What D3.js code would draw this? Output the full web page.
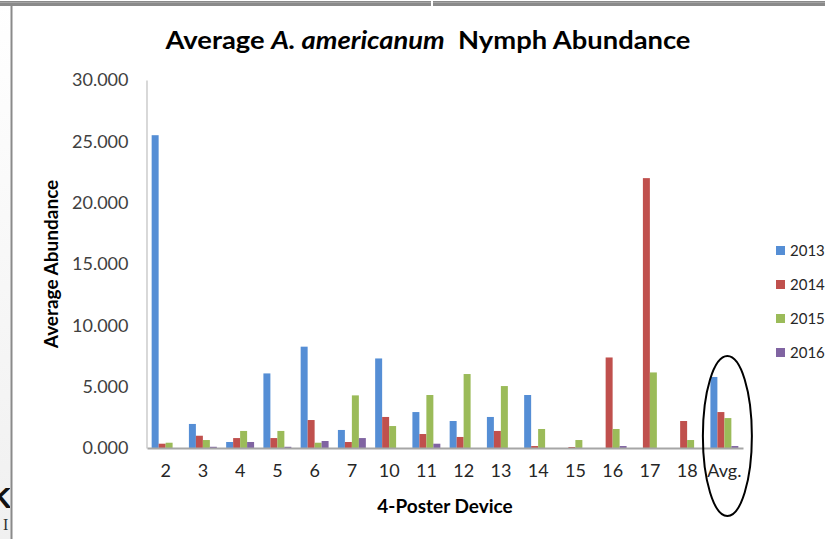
<!DOCTYPE html>
<html><head><meta charset="utf-8">
<script src="https://cdn.jsdelivr.net/npm/d3@7"></script>
<style>
html,body{margin:0;padding:0;background:#fff;}
svg{display:block;font-family:Lato,"Open Sans",sans-serif;}
</style></head>
<body>
<svg id="chart" width="825" height="539"></svg>
<script>
const categories = ["2","3","4","5","6","7","10","11","12","13","14","15","16","17","18","Avg."];
const seriesNames = ["2013","2014","2015","2016"];
const v2013 = [25.5,1.96,0.49,6.08,8.26,1.47,7.30,2.93,2.20,2.53,4.32,0,0,0,0,5.79];
const v2014 = [0.35,1.00,0.81,0.81,2.28,0.49,2.53,1.14,0.90,1.39,0.16,0.08,7.38,22.0,2.20,2.93];
const v2015 = [0.43,0.65,1.39,1.39,0.43,4.29,1.79,4.32,6.03,5.05,1.55,0.65,1.55,6.16,0.65,2.44];
const v2016 = [0,0.10,0.49,0.10,0.57,0.81,0,0.35,0,0,0,0,0.16,0,0,0.16];
const yTicks = [0,5,10,15,20,25,30];
const colors = ["#558ED5","#C0504D","#9BBB59","#8064A2"];
const seriesValues = [v2013,v2014,v2015,v2016];

const svg = d3.select("#chart");

// page decoration (window frame)
const defs = svg.append("defs");
const lg = defs.append("linearGradient").attr("id","leftbg").attr("x1","0").attr("x2","0").attr("y1","0").attr("y2","1");
lg.append("stop").attr("offset","0").attr("stop-color","#ffffff");
lg.append("stop").attr("offset","1").attr("stop-color","#f0f0f0");
svg.append("rect").attr("x",0).attr("y",0).attr("width",11).attr("height",539).attr("fill","url(#leftbg)");
defs.append("clipPath").attr("id","leftclip").append("rect").attr("x",0).attr("y",0).attr("width",10).attr("height",539);
const lt = svg.append("g").attr("clip-path","url(#leftclip)");
lt.append("text").attr("x",-10).attr("y",508).attr("font-family","Liberation Sans").attr("font-weight","bold").attr("font-size",30).attr("fill","#111").text("K");
lt.append("text").attr("x",3).attr("y",530).attr("font-family","Liberation Serif").attr("font-size",16).attr("fill","#333").text("I");
svg.append("rect").attr("x",0).attr("y",1).attr("width",825).attr("height",5).attr("fill","#8a8a8a");
svg.append("rect").attr("x",0).attr("y",2).attr("width",825).attr("height",1).attr("fill","#a5a5a5");
svg.append("rect").attr("x",10.5).attr("y",5).attr("width",2).attr("height",534).attr("fill","#8a8a8a");
svg.append("rect").attr("x",431).attr("y",0).attr("width",2).attr("height",6).attr("fill","#fff");

const x0 = d3.scaleBand().domain(categories).range([147,743]).paddingInner(0.25).paddingOuter(0.125);
const x1 = d3.scaleBand().domain(seriesNames).range([0,x0.bandwidth()]).padding(0);
const y = d3.scaleLinear().domain([0,30]).range([448,80]);

// title
const title = svg.append("text").attr("x",428).attr("y",49).attr("text-anchor","middle")
  .attr("font-size",25).attr("font-weight","bold").attr("fill","#000")
  .attr("textLength",525).attr("lengthAdjust","spacingAndGlyphs");
title.append("tspan").text("Average ");
title.append("tspan").attr("font-style","italic").text("A. americanum");
title.append("tspan").text("\u00A0 Nymph Abundance");

// y axis
const yAxis = svg.append("g").attr("transform","translate(146.5,0)")
  .call(d3.axisLeft(y).tickValues(yTicks).tickFormat(d3.format(".3f")).tickSize(0).tickPadding(18));
yAxis.select(".domain").attr("stroke","#bfbfbf").attr("stroke-width",1.2);
yAxis.selectAll("text").attr("font-size",18).attr("fill","#404040").attr("font-family","Lato");

// bars
const groups = svg.append("g").selectAll("g").data(categories).join("g")
  .attr("transform",d=>`translate(${x0(d)},0)`);
groups.selectAll("rect").data((d,i)=>seriesNames.map((s,j)=>({s, j, v:seriesValues[j][i]})))
  .join("rect")
  .attr("x",d=>x1(d.s)).attr("width",x1.bandwidth())
  .attr("y",d=>y(d.v)).attr("height",d=>y(0)-y(d.v))
  .attr("fill",d=>colors[d.j]);

// x axis
const xAxis = svg.append("g").attr("transform","translate(0,448)")
  .call(d3.axisBottom(x0).tickSize(0).tickPadding(16).tickSizeOuter(0));
xAxis.select(".domain").attr("stroke","#a6a6a6").attr("stroke-width",2);
xAxis.selectAll("text").attr("font-size",18).attr("fill","#262626").attr("font-family","Lato");

// axis titles
svg.append("text").attr("transform","translate(58,264) rotate(-90)").attr("text-anchor","middle")
  .attr("font-size",19).attr("font-weight","bold").attr("fill","#000").text("Average Abundance");
svg.append("text").attr("x",445).attr("y",513).attr("text-anchor","middle")
  .attr("font-size",19).attr("font-weight","bold").attr("fill","#000").text("4-Poster Device");

// legend
const legend = svg.append("g").selectAll("g").data(seriesNames).join("g")
  .attr("transform",(d,i)=>`translate(776,${246+i*34})`);
legend.append("rect").attr("width",9).attr("height",9).attr("fill",(d,i)=>colors[i]);
legend.append("text").attr("x",14).attr("y",10).attr("font-size",15).attr("fill","#262626").text(d=>d);

// annotation ellipse around averages
svg.append("ellipse").attr("cx",x0("Avg.")+x0.bandwidth()/2+3).attr("cy",436)
  .attr("rx",24.5).attr("ry",80).attr("fill","none").attr("stroke","#000").attr("stroke-width",2);
</script>
</body></html>
